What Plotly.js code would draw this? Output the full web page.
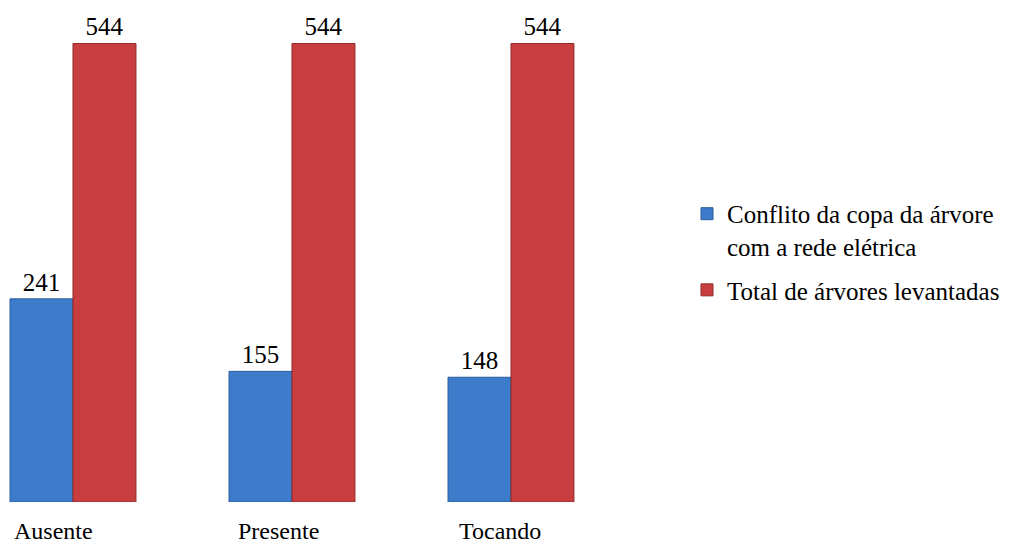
<!DOCTYPE html>
<html>
<head>
<meta charset="utf-8">
<script src="https://cdn.plot.ly/plotly-3.0.1.min.js"></script>
</head>
<body style="margin:0">
<div id="chart" style="width:1014px;height:544px"></div>
<script>
// Situação da copa em relação à rede elétrica
const categories = ['Ausente', 'Presente', 'Tocando'];
const seriesNames = ['Conflito da copa da árvore<br>com a rede elétrica', 'Total de árvores levantadas'];
const conflito = [241, 155, 148];
const total = [544, 544, 544];

// horizontal nudge (px) of each category label under its pair of bars
const labelShift = [-19, -13, -11];

const SERIF = 'Liberation Serif';

const traces = [
  {
    type: 'bar', name: seriesNames[0], x: categories, y: conflito,
    text: conflito.map(String), textposition: 'outside', cliponaxis: false,
    textfont: { family: SERIF, size: 25, color: '#000000' },
    marker: { color: '#3d7bcb', line: { color: '#2b5c9c', width: 1 } },
    legend: 'legend'
  },
  {
    type: 'bar', name: seriesNames[1], x: categories, y: total,
    text: total.map(String), textposition: 'outside', cliponaxis: false,
    textfont: { family: SERIF, size: 25, color: '#000000' },
    marker: { color: '#c83e3e', line: { color: '#8f2b2b', width: 1 } },
    legend: 'legend2'
  }
];

const annotations = categories.map((c, i) => ({
  x: c, xref: 'x', y: 0, yref: 'paper', yanchor: 'top',
  yshift: -14, xshift: labelShift[i], showarrow: false,
  text: c, font: { family: SERIF, size: 24, color: '#000000' }
}));

const legendBase = {
  x: 0.6775, xref: 'container', xanchor: 'left',
  yref: 'container', yanchor: 'top',
  valign: 'top', traceorder: 'normal',
  font: { family: SERIF, size: 25, color: '#000000' },
  bgcolor: 'rgba(0,0,0,0)', borderwidth: 0
};

const layout = {
  width: 1014, height: 544,
  margin: { l: 0, r: 354, t: 30, b: 42 },
  barmode: 'group', bargap: 0.425, bargroupgap: 0,
  xaxis: {
    type: 'category', range: [-0.3333, 2.6804],
    showticklabels: false, showgrid: false, zeroline: false, showline: false, ticks: ''
  },
  yaxis: {
    range: [0, 560], visible: false, showgrid: false, zeroline: false
  },
  showlegend: true,
  legend: Object.assign({}, legendBase, { y: 0.649 }),
  legend2: Object.assign({}, legendBase, { y: 0.509 }),
  annotations: annotations
};

Plotly.newPlot('chart', traces, layout, { staticPlot: true });
</script>
</body>
</html>
